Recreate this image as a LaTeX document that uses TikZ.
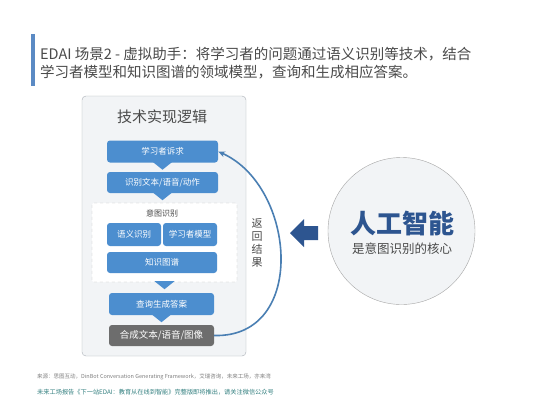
\documentclass[tikz,border=0pt]{standalone}
\usepackage{fontspec}
\setmainfont{Noto Sans CJK SC}
\usetikzlibrary{arrows.meta}
\definecolor{barblue}{HTML}{5B8AC4}
\definecolor{boxblue}{HTML}{4C8ECF}
\definecolor{boxgray}{HTML}{6D6D6D}
\definecolor{curveblue}{HTML}{4A7FB3}
\definecolor{aiblue}{HTML}{2D5590}
\definecolor{titlegray}{HTML}{4A4A4A}
\definecolor{panelfill}{HTML}{F2F4F6}
\definecolor{paneldraw}{HTML}{AAB0B6}
\tikzset{block/.style = {fill=boxblue, rounded corners=3pt, text=white, font=\fontsize{8.5}{10}\selectfont, minimum height=22pt, minimum width=111pt, inner sep=0pt},
         gblock/.style = {block, fill=boxgray, font=\fontsize{9.5}{11}\selectfont},
         dbox/.style = {draw=gray!50, dashed, fill=white, rounded corners=2pt, minimum width=145pt, minimum height=79pt},
         foot/.style = {anchor=west, font=\fontsize{5.5}{6}\selectfont, inner sep=0pt}}
\begin{document}
\begin{tikzpicture}[x=1pt,y=-1pt]
        \useasboundingbox[fill=white](0,0)rectangle(533,400);
        % heading
        \fill[barblue](31,34)rectangle(35,86);
        \node[anchor=west,text=titlegray,font=\fontsize{14.5}{18}\selectfont,align=left,inner sep=0pt](head)at(40,63){EDAI 场景2 - 虚拟助手：将学习者的问题通过语义识别等技术，结合\\学习者模型和知识图谱的领域模型，查询和生成相应答案。};
        % panel
        \node[draw=paneldraw,fill=panelfill,rounded corners=4pt,minimum width=164pt,minimum height=260pt](panel)at(164,226){};
        \node[text=titlegray,font=\fontsize{15}{18}\selectfont](ptitle)at(162,117){技术实现逻辑};
        \node[block](req)at(162.5,151.5){学习者诉求};
        \node[block,minimum height=21pt](recog)at(162.5,182.5){识别文本/语音/动作};
        \node[dbox](intent)at(164.5,242.5){};
        \node[text=titlegray,font=\fontsize{8}{9}\selectfont](ilabel)at(162,213){意图识别};
        \node[block,minimum width=54pt,minimum height=23pt](sem)at(134,234.5){语义识别};
        \node[block,minimum width=54pt,minimum height=23pt](learner)at(190,234.5){学习者模型};
        \node[block,minimum width=110pt,minimum height=21pt](kg)at(162,262.5){知识图谱};
        \node[block,minimum width=105pt](query)at(161.5,304){查询生成答案};
        \node[gblock,minimum width=105pt,minimum height=21pt](synth)at(161.5,335.5){合成文本/语音/图像};
        % notches
        \foreach \n in {req,recog,intent,query}
            \fill[boxblue]([xshift=-10pt,yshift=1pt]\n.south)--([xshift=10pt,yshift=1pt]\n.south)--([yshift=-7pt]\n.south)--cycle;
        % return loop
        \draw[curveblue,line width=1.6pt,-{Stealth[length=7pt,width=6pt]}](synth.east)..controls(308,338)and(296,186)..(req.east);
        \node[text=titlegray,font=\fontsize{11}{13}\selectfont,align=center,inner sep=0pt](ret)at(257,243){返\\回\\结\\果};
        % right part
        \fill[aiblue](290,233)--(304,219)--(304,226)--(318,226)--(318,240)--(304,240)--(304,247)--cycle;
        \node[circle,draw=gray!70,fill=panelfill,minimum size=147pt](ai)at(401.5,231){};
        \node[text=aiblue,font=\fontsize{26}{30}\selectfont\bfseries](aititle)at(402,223){人工智能};
        \node[text=titlegray,font=\fontsize{12.5}{15}\selectfont](aisub)at(402,249){是意图识别的核心};
        % footer
        \node[foot,text=gray](src)at(37,377){来源：思图互动，DinBot Conversation Generating Framework，艾瑞咨询，未来工场，亦来湾};
        \node[foot,text=teal!60!gray,font=\fontsize{6.2}{7}\selectfont](note)at(37,392){未来工场报告《下一站EDAI：教育从在线到智能》完整版即将推出，请关注微信公众号};
    \end{tikzpicture}
\end{document}
